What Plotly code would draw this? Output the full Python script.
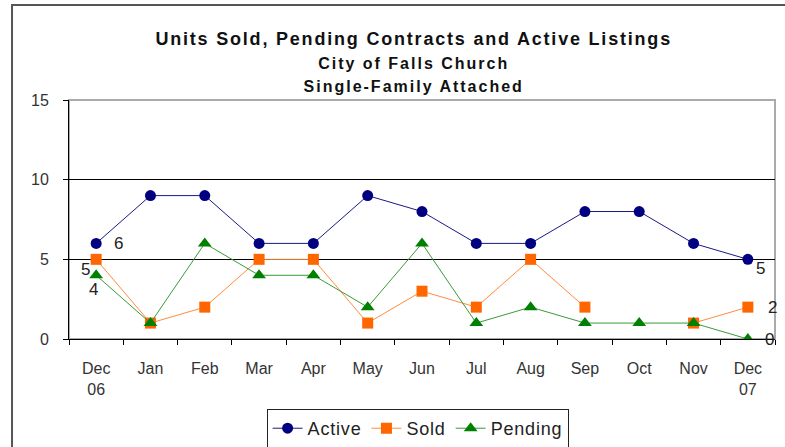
import plotly.graph_objects as go

months = ["Dec<br>06", "Jan", "Feb", "Mar", "Apr", "May", "Jun", "Jul", "Aug", "Sep", "Oct", "Nov", "Dec<br>07"]
active = [6, 9, 9, 6, 6, 9, 8, 6, 6, 8, 8, 6, 5]
sold = [5, 1, 2, 5, 5, 1, 3, 2, 5, 2, None, 1, 2]
pending = [4, 1, 6, 4, 4, 2, 6, 1, 2, 1, 1, 1, 0]
yticks = [0, 5, 10, 15]

FONT = "Arial, Liberation Sans, sans-serif"
SP = "<span style='letter-spacing:0.8px'>{}</span>"

fig = go.Figure()
fig.add_trace(go.Scatter(x=months, y=active, name=SP.format("Active"), mode="lines+markers",
                         line=dict(color="#1a1a80", width=1),
                         marker=dict(symbol="circle", size=11, color="#000080")))
fig.add_trace(go.Scatter(x=months, y=sold, name=SP.format("Sold"), mode="lines+markers",
                         line=dict(color="#FF8C40", width=1),
                         marker=dict(symbol="square", size=11, color="#FF6600"),
                         connectgaps=False))
fig.add_trace(go.Scatter(x=months, y=pending, name=SP.format("Pending"), mode="lines+markers",
                         line=dict(color="#3a9a3a", width=1),
                         marker=dict(symbol="triangle-up", size=12, color="#008000")))

# data labels at first and last points
labels = [
    (months[0], active[0], 22, 0),
    (months[0], sold[0], -11, -10),
    (months[0], pending[0], -3, -14),
    (months[-1], active[-1], 13, -9),
    (months[-1], sold[-1], 25, 0),
    (months[-1], pending[-1], 22, 0),
]
for x, y, xs, ys in labels:
    fig.add_annotation(x=x, y=y, text=str(y), showarrow=False, xshift=xs, yshift=ys,
                       font=dict(family=FONT, size=17, color="#222222"))

# outer border
fig.add_shape(type="rect", xref="paper", yref="paper", x0=-0.0807, x1=1.05, y0=-0.6, y1=1.397,
              line=dict(color="#555555", width=2), fillcolor="rgba(0,0,0,0)", layer="below")
# plot border (grey)
fig.add_shape(type="rect", xref="paper", yref="paper", x0=0, x1=1, y0=0, y1=1,
              line=dict(color="#aaaaaa", width=2), fillcolor="rgba(0,0,0,0)", layer="below")

fig.update_layout(
    width=785, height=447,
    margin=dict(l=69, r=10, t=100, b=108, autoexpand=False),
    paper_bgcolor="white", plot_bgcolor="white",
    font=dict(family=FONT, color="#222222"),
    title=dict(
        text="<b><span style='letter-spacing:1.8px'>Units Sold, Pending Contracts and Active Listings</span></b><br>"
             "<span style='font-size:16px;letter-spacing:2px'><b>City of Falls Church</b></span><br>"
             "<span style='font-size:16px;letter-spacing:2px'><b>Single-Family Attached</b></span>",
        xref="container", x=0.527, xanchor="center", y=0.899, yanchor="top",
        font=dict(family=FONT, size=18, color="#111111")),
    showlegend=True,
    legend=dict(orientation="h", xref="container", x=0.532, xanchor="center",
                yref="container", y=0.085, yanchor="top",
                bordercolor="#222222", borderwidth=1, bgcolor="white",
                font=dict(family=FONT, size=18, color="#222222"),
                tracegroupgap=0),
    xaxis=dict(type="category", range=[-0.5, 12.5], showline=True, linecolor="black", linewidth=1,
               ticks="outside", tickson="boundaries", ticklen=5, tickcolor="black",
               showgrid=False, ticklabelstandoff=15,
               tickfont=dict(family=FONT, size=16, color="#333333")),
    yaxis=dict(range=[0, 15], tickvals=yticks, showline=True, linecolor="black", linewidth=1,
               ticks="outside", ticklen=5, tickcolor="black", showgrid=True, gridcolor="black",
               gridwidth=1, zeroline=False, ticklabelstandoff=11,
               tickfont=dict(family=FONT, size=16, color="#333333")),
)

fig.write_html("out.html", config={"displayModeBar": False},
               post_script="document.body.style.margin='0';")
